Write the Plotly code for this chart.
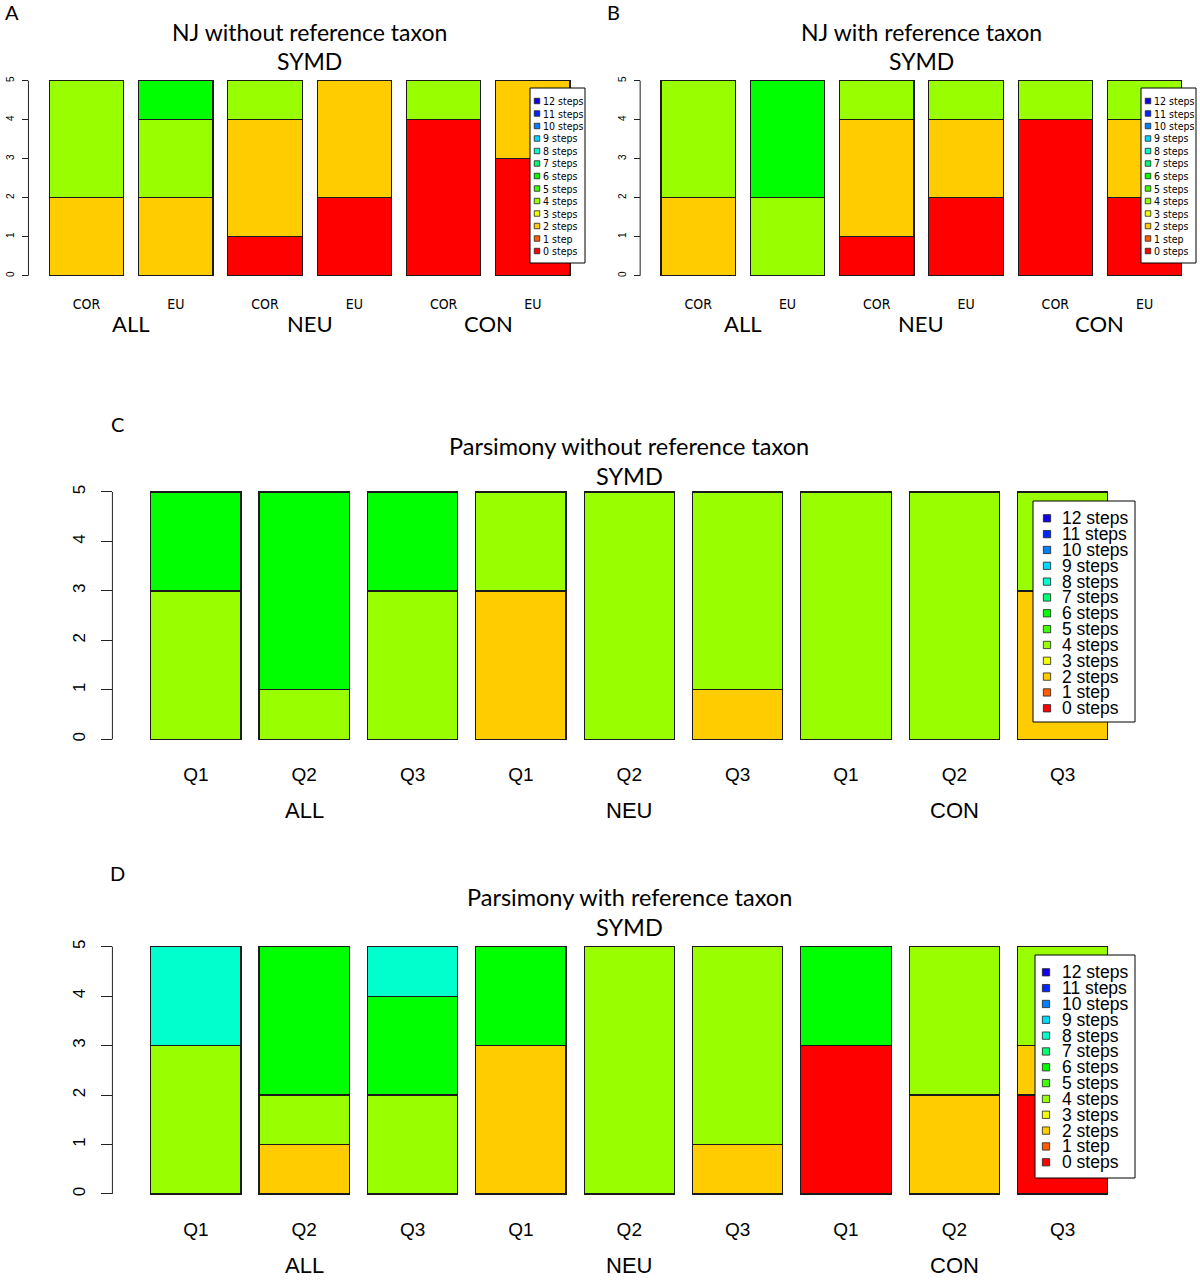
import plotly.graph_objects as go

# ---------------- data ----------------
step_labels = ["0 steps", "1 step", "2 steps", "3 steps", "4 steps", "5 steps", "6 steps",
               "7 steps", "8 steps", "9 steps", "10 steps", "11 steps", "12 steps"]
step_colors = ["#FF0000", "#FF5E00", "#FFCC00", "#F2FF00", "#99FF00", "#40FF00", "#00FF00",
               "#00FF73", "#00FFCC", "#00D9FF", "#0080FF", "#0026FF", "#1200E8"]

nj_categories = ["COR", "EU", "COR", "EU", "COR", "EU"]
pars_categories = ["Q1", "Q2", "Q3", "Q1", "Q2", "Q3", "Q1", "Q2", "Q3"]
group_labels = ["ALL", "NEU", "CON"]

# NJ without reference taxon (counts per step, one value per bar)
nj_without_0 = [0, 0, 1, 2, 4, 3]
nj_without_2 = [2, 2, 3, 3, 0, 2]
nj_without_4 = [3, 2, 1, 0, 1, 0]
nj_without_6 = [0, 1, 0, 0, 0, 0]

# NJ with reference taxon
nj_with_0 = [0, 0, 1, 2, 4, 2]
nj_with_2 = [2, 0, 3, 2, 0, 2]
nj_with_4 = [3, 2, 1, 1, 1, 1]
nj_with_6 = [0, 3, 0, 0, 0, 0]

# Parsimony without reference taxon
pars_without_2 = [0, 0, 0, 3, 0, 1, 0, 0, 3]
pars_without_4 = [3, 1, 3, 2, 5, 4, 5, 5, 2]
pars_without_6 = [2, 4, 2, 0, 0, 0, 0, 0, 0]

# Parsimony with reference taxon
pars_with_0 = [0, 0, 0, 0, 0, 0, 3, 0, 2]
pars_with_2 = [0, 1, 0, 3, 0, 1, 0, 2, 1]
pars_with_4 = [3, 1, 2, 0, 5, 4, 0, 3, 2]
pars_with_6 = [0, 3, 2, 2, 0, 0, 2, 0, 0]
pars_with_8 = [2, 0, 1, 0, 0, 0, 0, 0, 0]

titles = ["NJ without reference taxon", "NJ with reference taxon",
          "Parsimony without reference taxon", "Parsimony with reference taxon"]
subtitle = "SYMD"
letters = ["A", "B", "C", "D"]

# ---------------- layout geometry (window pixels) ----------------
W, H = 1200, 1288


def fx(p):
    return p / W


def fy(p):
    return 1 - p / H


panels = [
    dict(cats=nj_categories, series={0: nj_without_0, 2: nj_without_2, 4: nj_without_4, 6: nj_without_6},
         bar0=49.3, unit=74.4, y0=275.7, yunit=39.0, small=True,
         letter_xy=(12, 12), title_y=(32, 61), cat_y=303, grp_y=323,
         leg=dict(box=(530, 88, 585, 263), first=101, gap=12.5, sw_cx=537, sw=5.5, tx=541, fs=10.5)),
    dict(cats=nj_categories, series={0: nj_with_0, 2: nj_with_2, 4: nj_with_4, 6: nj_with_6},
         bar0=661.0, unit=74.4, y0=275.7, yunit=39.0, small=True,
         letter_xy=(613, 12), title_y=(32, 61), cat_y=303, grp_y=323,
         leg=dict(box=(1141, 88, 1196, 263), first=101, gap=12.5, sw_cx=1148, sw=5.5, tx=1152, fs=10.5)),
    dict(cats=pars_categories, series={2: pars_without_2, 4: pars_without_4, 6: pars_without_6},
         bar0=150.7, unit=90.3, y0=739.3, yunit=49.46, small=False,
         letter_xy=(117, 424), title_y=(446, 476), cat_y=774, grp_y=810,
         leg=dict(box=(1033, 501, 1135, 722), first=518.3, gap=15.83, sw_cx=1047, sw=7.3, tx=1060, fs=17.5)),
    dict(cats=pars_categories, series={0: pars_with_0, 2: pars_with_2, 4: pars_with_4, 6: pars_with_6, 8: pars_with_8},
         bar0=150.7, unit=90.3, y0=1194.0, yunit=49.46, small=False,
         letter_xy=(117, 873), title_y=(897, 927), cat_y=1229, grp_y=1265,
         leg=dict(box=(1035, 955, 1135, 1178), first=972.3, gap=15.83, sw_cx=1046, sw=7.3, tx=1060, fs=17.5)),
]

TITLE_FONT = "Lato, Open Sans, sans-serif"
ARIAL = "Liberation Sans, Arial, sans-serif"
NARROW = "Liberation Sans Narrow, DejaVu Sans Condensed, Liberation Sans, sans-serif"

fig = go.Figure()
layout = dict(width=W, height=H, margin=dict(l=0, r=0, t=0, b=0),
              paper_bgcolor="white", plot_bgcolor="white", barmode="stack",
              showlegend=False)
shapes = []
annotations = []

for i, p in enumerate(panels):
    n = len(p["cats"])
    sfx = "" if i == 0 else str(i + 1)
    xa, ya = "x" + sfx, "y" + sfx
    pos = [0.7 + 1.2 * k for k in range(n)]
    L = 1.2 * n - 0.2
    ext = 0.04 * L
    r0, r1 = 0.2 - ext, 0.2 + L + ext
    left_px = p["bar0"] + (r0 - 0.2) * p["unit"]
    right_px = p["bar0"] + (r1 - 0.2) * p["unit"]
    region_center = (left_px + right_px) / 2
    if right_px > W:
        r1 = r1 - (right_px - W) / p["unit"]
        right_px_c = W
    else:
        right_px_c = right_px
    yb_px = p["y0"] + 0.2 * p["yunit"]
    yt_px = p["y0"] - 5.2 * p["yunit"]

    for step in sorted(p["series"].keys()):
        vals = p["series"][step]
        fig.add_trace(go.Bar(
            x=pos, y=[v if v > 0 else None for v in vals], width=1.0,
            marker=dict(color=step_colors[step], line=dict(color="#1a1a1a", width=1.2)),
            name=step_labels[step], xaxis=xa, yaxis=ya, hoverinfo="name+y"))

    small = p["small"]
    layout["xaxis" + sfx] = dict(
        domain=[fx(left_px), fx(right_px_c)], range=[r0, r1], anchor=ya,
        showgrid=False, zeroline=False, showline=False, ticks="",
        tickmode="array", tickvals=pos, ticktext=p["cats"],
        tickfont=dict(family=NARROW if small else ARIAL, size=14 if small else 19, color="black"),
        ticklabelstandoff=int(round((p["cat_y"] - yb_px) - (10 if small else 13))))
    layout["yaxis" + sfx] = dict(
        domain=[fy(yb_px), fy(yt_px)], range=[-0.2, 5.2], anchor="free", position=fx(left_px),
        showgrid=False, zeroline=False, showline=False,
        ticks="outside", ticklen=6.5 if small else 11.5, tickcolor="#222", tickwidth=1,
        tickmode="array", tickvals=[0, 1, 2, 3, 4, 5], ticktext=["0", "1", "2", "3", "4", "5"],
        tickangle=-90, tickfont=dict(family=ARIAL, size=10 if small else 17, color="black"),
        ticklabelstandoff=4 if small else 9)
    # R-style axis line from 0 to 5
    shapes.append(dict(type="line", xref="paper", yref=ya, x0=fx(left_px), x1=fx(left_px),
                       y0=0, y1=5, line=dict(color="#222", width=1)))

    # titles
    tsize = 23 if small else 23.5
    annotations.append(dict(text=titles[i], x=fx(region_center), y=fy(p["title_y"][0]), xref="paper", yref="paper",
                            showarrow=False, xanchor="center", yanchor="middle",
                            font=dict(family=TITLE_FONT, size=tsize, color="black")))
    annotations.append(dict(text=subtitle, x=fx(region_center), y=fy(p["title_y"][1]), xref="paper", yref="paper",
                            showarrow=False, xanchor="center", yanchor="middle",
                            font=dict(family=TITLE_FONT, size=tsize, color="black")))
    annotations.append(dict(text=letters[i], x=fx(p["letter_xy"][0]), y=fy(p["letter_xy"][1]), xref="paper", yref="paper",
                            showarrow=False, xanchor="center", yanchor="middle",
                            font=dict(family=TITLE_FONT, size=20, color="black")))
    # group labels
    per = n // len(group_labels)
    for g, gl in enumerate(group_labels):
        gx = sum(pos[g * per:(g + 1) * per]) / per
        annotations.append(dict(text=gl, x=gx, y=fy(p["grp_y"]), xref=xa, yref="paper",
                                showarrow=False, xanchor="center", yanchor="middle",
                                font=dict(family=TITLE_FONT if small else ARIAL, size=22, color="black")))

    # legend box drawn from the step arrays
    lg = p["leg"]
    bx0, by0, bx1, by1 = lg["box"]
    shapes.append(dict(type="rect", xref="paper", yref="paper", x0=fx(bx0), x1=fx(bx1), y0=fy(by1), y1=fy(by0),
                       fillcolor="white", line=dict(color="black", width=1)))
    for k, step in enumerate(reversed(range(len(step_labels)))):
        cy = lg["first"] + k * lg["gap"]
        h = lg["sw"] / 2
        shapes.append(dict(type="rect", xref="paper", yref="paper",
                           x0=fx(lg["sw_cx"] - h), x1=fx(lg["sw_cx"] + h), y0=fy(cy + h), y1=fy(cy - h),
                           fillcolor=step_colors[step], line=dict(color="#222", width=0.8)))
        annotations.append(dict(text=step_labels[step], x=fx(lg["tx"]), y=fy(cy), xref="paper", yref="paper",
                                showarrow=False, xanchor="left", yanchor="middle",
                                font=dict(family=NARROW if small else ARIAL, size=lg["fs"], color="black")))

layout["shapes"] = shapes
layout["annotations"] = annotations
fig.update_layout(**layout)
fig.write_html("out.html", config={"displayModeBar": False},
               post_script="document.body.style.margin='0';document.body.style.overflow='hidden';")
